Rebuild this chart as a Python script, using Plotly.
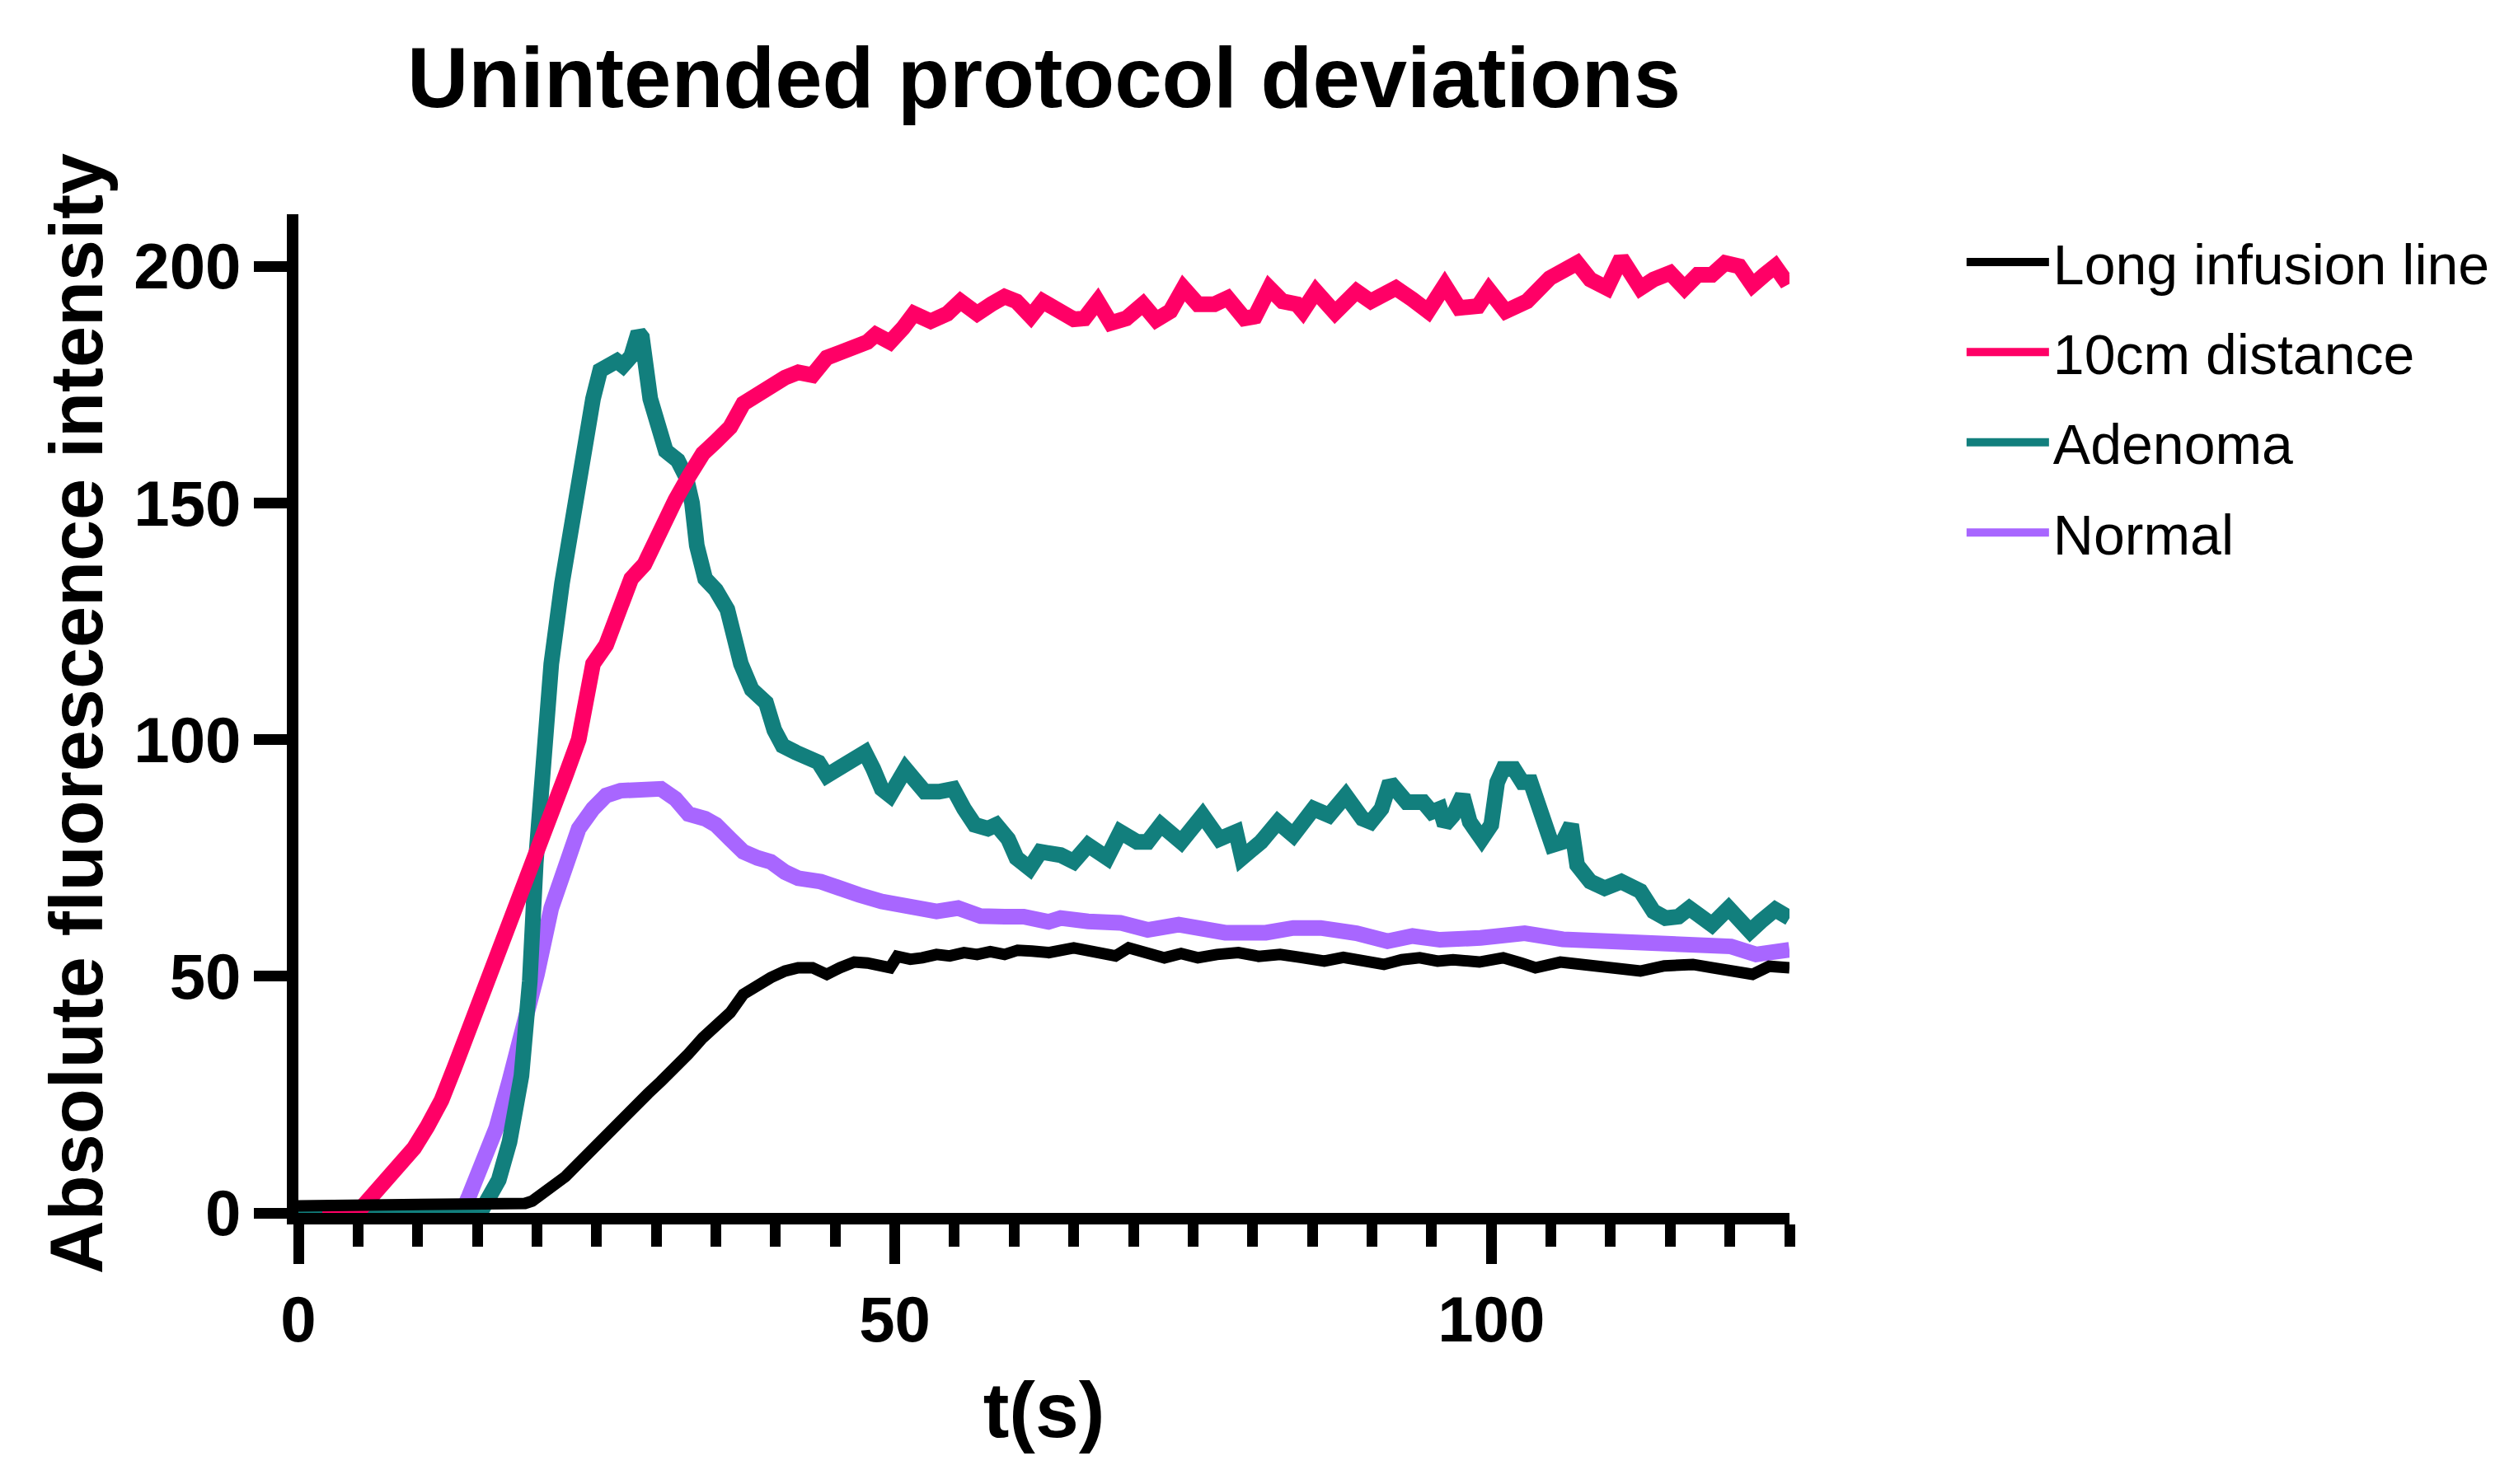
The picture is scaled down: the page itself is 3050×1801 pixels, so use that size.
import plotly.graph_objects as go

# cores (Prism)
C_LONG = "#000000"
C_10CM = "#FF0066"
C_ADEN = "#127F7D"
C_NORM = "#A866FF"
FONT = "Liberation Sans, Arial, sans-serif"

# ---- dados (t em s, intensidade absoluta) ----
t_long = [0, 5, 10, 15, 18, 19, 19.6, 20.5, 21.2, 22.4, 23.5, 24.7, 25.8, 27.0,
          28.1, 29.3, 30.4, 31.6, 32.7, 33.9, 35.0, 36.2, 37.3, 38.5, 39.6, 40.8,
          41.9, 43.1, 44.3, 45.4, 46.6, 47.7, 48.9, 49.6, 50.2, 51.3, 52.3, 53.5,
          54.6, 55.8, 56.9, 58.0, 59.2, 60.3, 61.5, 62.9, 65.0, 66.8, 68.5, 69.6,
          71.0, 72.6, 74.0, 75.4, 77.0, 78.8, 80.5, 82.3, 84.0, 86.0, 87.6, 89.2,
          91.0, 92.5, 94.0, 95.5, 96.8, 99.0, 101.0, 102.5, 103.7, 105.8, 107.9,
          110.0, 112.5, 114.5, 116.9, 118.5, 120.1, 121.9, 123.3, 125.0]
v_long = [1.5, 1.5, 1.5, 1.5, 1.5, 2, 2.5, 4, 5.6, 7.7, 10.5, 13.7, 16.1, 19.3,
          22.7, 25.2, 27.8, 30.5, 33.6, 37, 39.5, 42.3, 46.2, 48.3, 49.7, 51.1,
          51.8, 51.8, 50.4, 51.8, 53, 52.8, 52.5, 51.8, 54.2, 53.6, 53.9, 54.6,
          54.3, 55, 54.6, 55.2, 54.6, 55.5, 55.3, 55.0, 56, 55.2, 54.3, 56,
          55, 53.9, 54.8, 53.9, 54.6, 55, 54.2, 54.6, 54.0, 53.2, 54, 53.5,
          52.5, 53.5, 53.9, 53.2, 53.5, 53.0, 53.9, 52.8, 51.8, 53, 52.5,
          52.0, 51.1, 52.2, 52.5, 51.8, 51.1, 50.4, 52.1, 51.8]

t_10cm = [2.0, 4.0, 5.1, 6.2, 7.4, 8.5, 9.7, 10.8, 12.0, 13.1, 14.3, 15.4, 16.6,
          17.7, 18.9, 20.0, 21.2, 22.4, 23.5, 24.2, 24.7, 25.8, 27.0, 27.9, 29.0,
          30.2, 31.6, 32.7, 33.9, 35.0, 36.2, 37.3, 38.5, 39.6, 40.8, 41.9, 43.1,
          44.3, 45.4, 46.6, 47.7, 48.4, 49.6, 50.7, 51.6, 53.0, 54.4, 55.5, 56.9,
          58.1, 59.2, 60.2, 61.4, 62.4, 63.9, 65.0, 65.9, 67.0, 68.1, 69.4, 70.8,
          71.9, 73.1, 74.2, 75.4, 76.8, 77.9, 79.3, 80.2, 81.4, 82.5, 83.7, 84.2,
          85.3, 86.9, 88.7, 89.9, 92.0, 93.4, 94.7, 96.1, 97.3, 98.9, 99.8, 101.2,
          103.0, 104.9, 106.0, 107.2, 108.3, 109.7, 110.9, 111.8, 112.5, 113.6,
          115.0, 116.2, 117.3, 118.5, 119.6, 120.8, 121.9, 122.9, 123.8, 124.5, 125.0]
v_10cm = [-0.5, -0.6, 0.5, 3.5, 6.3, 9.8, 13.7, 18.2, 23.8, 30.8, 38.5, 46.2, 54.6,
          62.3, 70, 77, 84.7, 92.4, 100, 110, 116, 120, 127, 134, 137,
          144, 150.6, 155.5, 160.4, 163, 166, 171, 173, 175, 176.5, 177.6, 177,
          180.7, 181.8, 182.8, 184, 185.6, 184, 187, 190, 188.4, 190, 192.6, 190,
          192, 193.6, 192.6, 189.4, 192.6, 190.5, 188.8, 189, 192.6, 188, 189, 192,
          188.7, 190.5, 195.4, 192, 192, 193.3, 189, 189.4, 195.4, 192.6, 192, 190.5,
          194.7, 190.2, 194.7, 192.6, 195.4, 193, 190.5, 196, 191.2, 191.6, 195, 190.5,
          192.6, 197.5, 198.9, 200.7, 197.2, 195.4, 201.7, 198.6, 195.4, 197.2,
          198.6, 195.4, 198.2, 198.2, 200.7, 200, 196, 198.2, 200, 197.5, 198.2]

t_aden = [0, 14, 15.4, 16.8, 17.7, 18.7, 19.4, 19.9, 20.5, 21.2, 22.1, 23.0, 23.8,
          24.7, 25.3, 26.7, 27.2, 27.9, 28.5, 28.8, 29.5, 30.2, 30.8, 31.8, 32.5,
          33.0, 33.4, 34.1, 35.0, 35.96, 36.4, 37.1, 38.0, 39.2, 39.9, 40.6, 41.7,
          42.6, 43.6, 44.3, 45.2, 46.3, 47.5, 48.2, 48.9, 49.6, 50.2, 50.9, 51.6,
          52.5, 53.7, 54.9, 55.8, 56.7, 57.8, 58.5, 59.5, 60.2, 61.3, 62.2, 62.9,
          63.9, 65.0, 66.2, 67.8, 68.9, 70.3, 71.2, 72.3, 74.0, 75.8, 77.2, 78.6,
          79.1, 80.7, 82.1, 83.4, 85.1, 86.4, 87.8, 89.2, 89.9, 90.8, 91.5, 92.9,
          94.3, 95.0, 95.7, 96.1, 96.8, 97.6, 98.2, 99.2, 100.0, 100.5, 101.0, 101.9,
          102.6, 103.3, 104.2, 105.1, 106.0, 106.7, 107.2, 108.3, 109.5, 110.9,
          112.5, 113.6, 114.6, 115.7, 116.6, 118.5, 119.9, 121.7, 122.6, 123.8, 125.0]
v_aden = [0.5, 0.5, 0.7, 7, 15, 29, 49, 74, 95, 116, 133, 148, 158,
          172, 178, 180, 179, 181, 186, 185, 172, 167, 161, 159, 155.5,
          150, 141, 134, 131.6, 127.5, 122, 116, 110.6, 107.8, 102, 98.7, 97.3,
          96, 95.2, 92.4, 94, 95.2, 97.3, 93.8, 89.6, 88.2, 91, 93.8, 91.7,
          89, 89, 89.6, 85.4, 82, 81.2, 82, 79, 75, 72.8, 76.3, 76,
          75.6, 74.2, 77.7, 75, 80.5, 78.4, 78.4, 82, 78.4, 84, 79, 80.5,
          75, 78.4, 82.6, 79.8, 85.4, 84, 88.2, 83.3, 82.6, 85.4, 91, 86.8,
          86.8, 84.7, 85.4, 82, 84, 88.2, 82.6, 79, 82, 91, 93.8, 93.8,
          91, 91, 85.4, 77.7, 78.4, 82, 73.5, 70, 68.6, 70,
          68, 63.7, 62.3, 62.6, 64.4, 60.9, 64.4, 59.5, 61.6, 64.1, 62.3]

t_norm = [2.3, 13.6, 14.3, 15.4, 16.6, 17.7, 18.9, 20.0, 21.2, 22.4, 23.5, 24.7,
          25.8, 27.0, 28.3, 29.5, 30.4, 31.6, 32.7, 34.1, 35.0, 36.2, 37.3, 38.5,
          39.6, 40.8, 41.9, 43.8, 45.4, 47.0, 48.9, 51.2, 53.5, 55.3, 57.2, 59.2,
          60.8, 62.9, 63.9, 66.2, 68.9, 71.2, 73.8, 77.7, 81.1, 83.4, 85.7, 88.7,
          91.3, 93.4, 95.7, 99.1, 102.8, 106.0, 110.6, 112.9, 116.4, 120.1, 122.2, 125.0]
v_norm = [-1, -0.5, 3.5, 9.8, 18, 28, 38.5, 50.4, 64.4, 74.2, 81.2, 85.4,
          88.2, 89.2, 89.2, 90, 89.6, 87.5, 84.3, 83.3, 82, 79, 76.3, 75,
          74.2, 72, 70.7, 70, 68.2, 67.2, 65.8, 64.7, 63.7, 64.4, 62.7, 62.6,
          62.6, 61.5, 62.3, 61.6, 61.3, 59.8, 60.9, 59.2, 59.2, 60.2, 60.2, 59.1,
          57.4, 58.5, 57.7, 58.1, 59.1, 57.8, 57.4, 56.4, 56.7, 56.3, 54.6, 55.6]

fig = go.Figure()

# ordem de desenho do Prism: primeiro conjunto por cima; legendrank fixa a ordem da legenda
series = [
    ("Normal", t_norm, v_norm, C_NORM, 19, 4),
    ("Adenoma", t_aden, v_aden, C_ADEN, 19, 3),
    ("10cm distance", t_10cm, v_10cm, C_10CM, 19, 2),
    ("Long infusion line", t_long, v_long, C_LONG, 14, 1),
]
for name, t, v, cor, w, rank in series:
    fig.add_trace(go.Scatter(x=t, y=v, name=name, legendgroup=name, legendrank=rank,
                             mode="lines", line=dict(color=cor, width=w)))

tick_font = dict(family=FONT, size=78, color="black", weight="bold")

fig.update_xaxes(range=[0, 125], tickvals=[0, 50, 100],
                 showline=True, linewidth=14, linecolor="black",
                 ticks="outside", ticklen=48, tickwidth=13, tickcolor="black",
                 minor=dict(dtick=5, tick0=0, ticks="outside", ticklen=27,
                            tickwidth=13, tickcolor="black", showgrid=False),
                 showgrid=False, zeroline=False, tickfont=tick_font,
                 title=dict(text="<b>t(s)</b>", standoff=40,
                            font=dict(family=FONT, size=95, color="black")))
fig.update_yaxes(range=[0, 211], tickvals=[0, 50, 100, 150, 200],
                 showline=True, linewidth=14, linecolor="black",
                 ticks="outside", ticklen=40, tickwidth=13, tickcolor="black",
                 showgrid=False, zeroline=False, tickfont=tick_font,
                 title=dict(text="<b>Absolute fluorescence intensity</b>", standoff=14,
                            font=dict(family=FONT, size=90, color="black")))

fig.update_layout(
    width=3050, height=1801,
    paper_bgcolor="white", plot_bgcolor="white",
    margin=dict(l=354, r=887, t=252, b=337),
    title=dict(text="<b>Unintended protocol deviations</b>", x=0.5, xref="paper",
               y=1 - 86 / 1801, yref="container", yanchor="middle",
               font=dict(family=FONT, size=103, color="black")),
    legend=dict(x=1.116, y=0.994, xanchor="left", yanchor="top",
                traceorder="grouped", tracegroupgap=18, itemwidth=100,
                font=dict(family=FONT, size=68, color="black"),
                bgcolor="rgba(0,0,0,0)"),
    font=dict(family=FONT, color="black"),
)

fig.write_html("out.html")
